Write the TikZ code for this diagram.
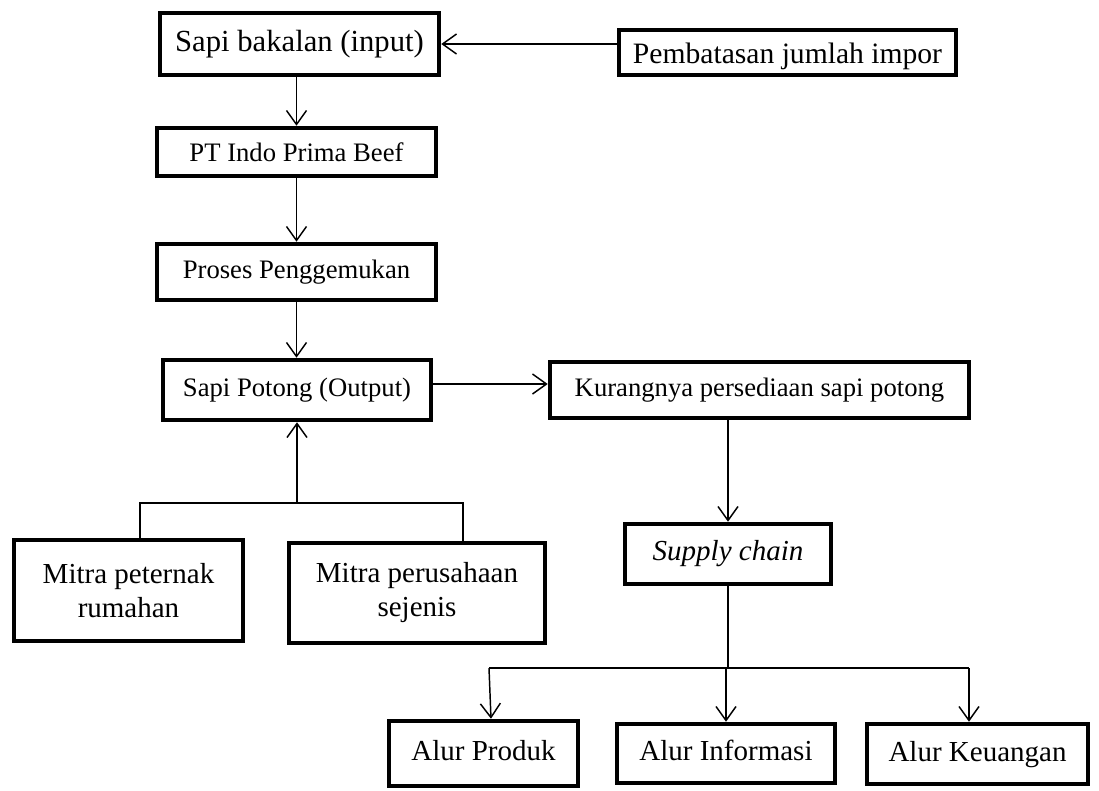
\documentclass[tikz,border=0pt]{standalone}
\usepackage{fontspec}
\setmainfont{Liberation Serif}
\usetikzlibrary{arrows.meta,calc}
\begin{document}
\begin{tikzpicture}[x=0.75pt,y=-0.75pt,
  box/.style={draw, line width=3.4pt, inner sep=0pt, align=center, fill=white},
  sz/.style 2 args={minimum width=#1*0.75pt, minimum height=#2*0.75pt},
  conn/.style={line width=1.1pt},
  arr/.style={line width=1.1pt, -{Straight Barb[length=10.5pt,width=15pt]}},
  ftop/.style={font=\fontsize{23}{27}\selectfont},
  fmid/.style={font=\fontsize{20}{24}\selectfont},
  fbot/.style={font=\fontsize{21.75}{25.5}\selectfont},
  strut/.style={text height=15.5pt, text depth=4.7pt},
]
\fill[white] (0,0) rectangle (1099,790);
\useasboundingbox (0,0) rectangle (1099,790);

\node[box,sz={279}{62},ftop] (b1) at (299.5,44) {Sapi bakalan (input)};
\node[box,sz={337}{45},font=\fontsize{22.2}{26}\selectfont,text height=16.5pt,text depth=0.5pt] (b2) at (787.5,52.5) {Pembatasan jumlah impor};
\node[box,sz={279}{48},fmid] (b3) at (296.5,152) {PT Indo Prima Beef};
\node[box,sz={279}{56},fmid] (b4) at (296.5,272) {Proses Penggemukan};
\node[box,sz={268}{60},fmid] (b5) at (297,390) {Sapi Potong (Output)};
\node[box,sz={419}{56},fmid] (b6) at (759.5,390) {Kurangnya persediaan sapi potong};
\node[box,sz={206}{60},fbot] (b7) at (728,554) {\itshape Supply chain};
\node[box,sz={229}{101},fbot] (b8) at (128.5,590.5) {Mitra peternak\\rumahan};
\node[box,sz={256}{100},fbot] (b9) at (417,593) {Mitra perusahaan\\sejenis};
\node[box,sz={189}{65},fbot,strut] (b10) at (483.5,753.5) {Alur Produk};
\node[box,sz={218}{59},fbot,strut] (b11) at (726,753.5) {Alur Informasi};
\node[box,sz={221}{60},fbot,strut] (b12) at (977.5,754) {Alur Keuangan};

\draw[arr] (b2.west |- b1.east) -- (b1.east);
\draw[arr] (b3.north |- b1.south) -- (b3.north);
\draw[arr] (b3.south) -- (b4.north);
\draw[arr] (b4.south) -- (b4.south |- b5.north);
\draw[arr] ($(b5.east)+(0,-6)$) -- ($(b6.west)+(0,-6)$);
\draw[arr] (b6.south -| b7.north) -- (b7.north);

\coordinate (s) at (728,668);
\coordinate (sl) at (489,668);
\coordinate (sr) at (969,668);
\draw[conn] (b7.south) -- (s);
\draw[conn] (sl) -- (sr);
\draw[arr] (sl) -- ($(sl |- b10.north)+(2,0)$);
\draw[arr] (s -| b11.north) -- (b11.north);
\draw[arr] (sr) -- (sr |- b12.north);

\coordinate (m) at (297,503);
\coordinate (ml) at (140,503);
\coordinate (mr) at (463,503);
\draw[arr] (m) -- (b5.south);
\draw[conn] (ml |- b8.north) -- (ml) -- (mr) -- (mr |- b9.north);
\end{tikzpicture}
\end{document}
